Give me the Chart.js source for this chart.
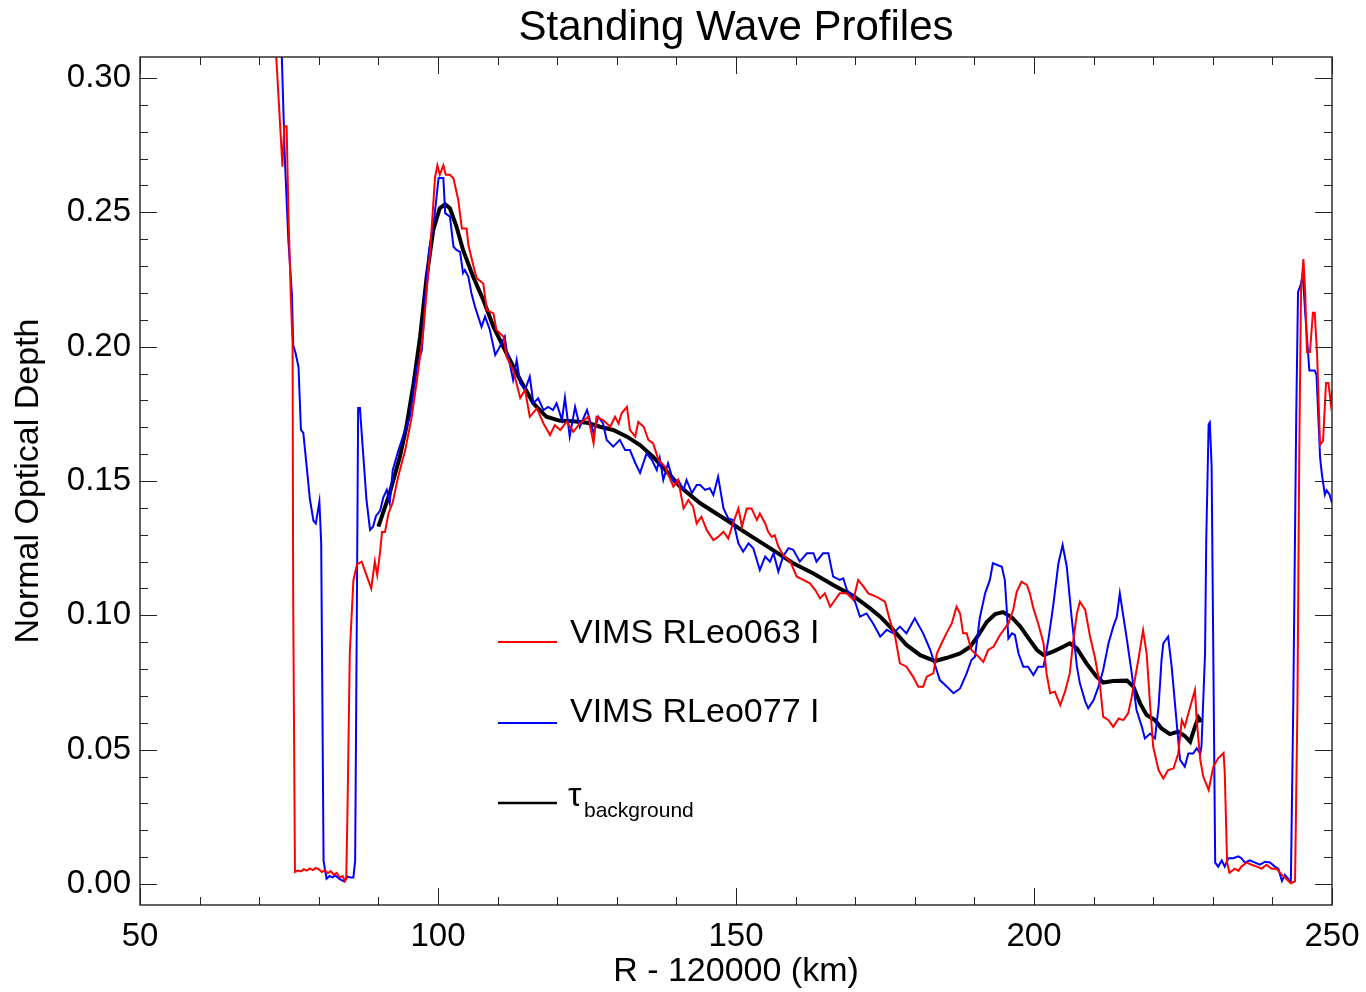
<!DOCTYPE html>
<html lang="en">
<head>
    <meta charset="UTF-8" />
    <title>Standing Wave Profiles</title>
    <script src="https://cdn.jsdelivr.net/npm/chart.js@4.4.1/dist/chart.umd.min.js"></script>
    <style>
        html, body { margin: 0; padding: 0; background: #fff; }
        #wrap { width: 1366px; height: 992px; }
    </style>
</head>
<body>
    <div id="wrap">
        <canvas id="waveChart" width="1366" height="992"></canvas>
    </div>

<script>
    // R - 120000 (km) / normal optical depth
    const redX = [72.3, 73.9, 74.2, 74.6, 74.9, 75.3, 75.6, 75.7, 76.0, 76.5, 77.0, 77.5, 78.0, 78.5, 79.0, 79.5, 80.0, 80.5, 81.0, 81.5, 82.0, 82.5, 83.0, 83.5, 84.0, 84.4, 84.6,
        84.8, 85.2, 85.8, 86.4, 87.2, 88.0, 88.8, 89.4, 89.8, 90.3, 90.6, 91.1, 91.7, 92.4, 93.3, 94.5, 95.6, 96.4, 97.5, 98.7, 99.5, 99.9, 100.3, 100.9, 101.3, 102.0, 102.6,
        103.4, 104.0, 104.8, 105.1, 105.9, 106.5, 107.6, 108.2, 109.3, 109.8, 111.0, 111.5, 112.6, 113.8, 114.6, 115.4, 116.6, 117.7, 118.8, 119.6, 120.5, 121.6, 122.7,
        123.8, 125.2, 126.1, 126.6, 127.7, 128.9, 129.7, 130.3, 130.8, 131.7, 132.2, 133.1, 133.6, 134.5, 135.3, 136.1, 137.0, 138.1, 139.5, 140.3, 141.2, 142.0, 142.8,
        143.4, 144.2, 145.1, 146.2, 147.0, 147.9, 148.7, 149.5, 150.4, 151.0, 151.8, 152.6, 153.5, 154.0, 154.9, 155.4, 156.0, 156.5, 157.1, 157.9, 159.1, 160.2, 161.3,
        162.4, 163.3, 164.1, 164.9, 165.8, 166.6, 167.4, 168.6, 169.7, 170.5, 171.4, 172.2, 173.6, 175.0, 175.8, 176.7, 177.5, 178.6, 179.7, 180.6, 181.4, 182.0, 183.1,
        183.7, 184.5, 185.3, 186.2, 187.0, 187.6, 188.1, 188.7, 189.5, 190.7, 191.5, 192.3, 193.2, 194.3, 195.7, 196.5, 197.1, 197.9, 198.8, 199.3, 199.9, 200.7, 201.6,
        202.1, 202.7, 203.5, 204.4, 205.2, 206.0, 206.6, 207.2, 207.7, 208.6, 209.4, 210.2, 211.1, 211.6, 212.5, 213.3, 214.2, 215.0, 215.8, 216.4, 217.5, 218.3, 218.9,
        219.5, 220.0, 220.9, 221.7, 222.5, 223.4, 224.2, 224.8, 225.3, 225.9, 227.0, 227.3, 227.9, 228.4, 229.3, 230.1, 230.9, 231.8, 232.0, 232.4, 232.8, 233.7, 234.3,
        234.8, 235.7, 236.5, 237.4, 238.2, 239.0, 239.9, 240.7, 241.6, 242.4, 243.1, 243.8, 244.2, 244.5, 244.8, 245.2, 245.5, 245.8, 246.3, 246.8, 247.1, 247.5, 248.0,
        248.5, 249.0, 249.4, 249.8, 250.1];
    const redY = [0.33, 0.267, 0.282, 0.282, 0.250, 0.219, 0.201, 0.107, 0.0045, 0.0050, 0.0047, 0.0055, 0.0050, 0.0058, 0.0052, 0.0060, 0.0055, 0.0045, 0.0052, 0.0040, 0.0048, 0.0035, 0.0042, 0.0025, 0.0030, 0.0012, 0.0020,
        0.025, 0.086, 0.113, 0.119, 0.120, 0.115, 0.110, 0.120, 0.115, 0.124, 0.131, 0.131, 0.138, 0.142, 0.1515, 0.1615, 0.174, 0.1865, 0.205, 0.236, 0.263, 0.2675, 0.264, 0.2675, 0.264, 0.264, 0.2626,
        0.2546, 0.244, 0.244, 0.2378, 0.2304, 0.2254, 0.2235, 0.2136, 0.2124, 0.2062, 0.2037, 0.1963, 0.1913, 0.1809, 0.1839, 0.1739, 0.1770, 0.1714, 0.1671, 0.1708, 0.1690, 0.1721, 0.1683,
        0.1714, 0.1739, 0.1640, 0.1739, 0.1727, 0.1702, 0.1739, 0.1714, 0.1752, 0.1776, 0.1690, 0.1665, 0.1720, 0.1702, 0.1653, 0.1640, 0.1578, 0.1553, 0.1479, 0.1504, 0.1398, 0.1429, 0.1404,
        0.1342, 0.1367, 0.1317, 0.1280, 0.1292, 0.1311, 0.1286, 0.1342, 0.1398, 0.1330, 0.1398, 0.1398, 0.1355, 0.1379, 0.1342, 0.1311, 0.1292, 0.1298, 0.1256, 0.1225, 0.1200, 0.1144, 0.1132,
        0.1119, 0.1094, 0.1063, 0.1082, 0.1032, 0.1057, 0.1082, 0.1082, 0.1057, 0.1132, 0.1107, 0.1082, 0.1069, 0.1051, 0.0983, 0.0921, 0.0821, 0.0809, 0.0772, 0.0734, 0.0734, 0.0772, 0.0784,
        0.0858, 0.0896, 0.0933, 0.0970, 0.1032, 0.1007, 0.0933, 0.0933, 0.0871, 0.0846, 0.0827, 0.0871, 0.0883, 0.0927, 0.0970, 0.1020, 0.1088, 0.1125, 0.1113, 0.1082, 0.1026, 0.0970, 0.0896,
        0.0784, 0.0710, 0.0716, 0.0666, 0.0716, 0.0784, 0.0908, 0.1007, 0.1051, 0.1020, 0.0921, 0.0846, 0.0734, 0.0623, 0.0610, 0.0585, 0.0616, 0.0610, 0.0635, 0.0697, 0.0834, 0.0945, 0.0858,
        0.0660, 0.0511, 0.0424, 0.0393, 0.0424, 0.0430, 0.0486, 0.0610, 0.0585, 0.0635, 0.0722, 0.0610, 0.0462, 0.0400, 0.0350, 0.0437, 0.0468, 0.0488, 0.0418, 0.0080, 0.0042, 0.0057, 0.0049,
        0.0065, 0.0080, 0.0072, 0.0065, 0.0057, 0.0072, 0.0057, 0.0057, 0.0034, 0.0018, 0.0003, 0.0010, 0.0665, 0.1588, 0.2203, 0.2326, 0.2203, 0.1980, 0.1980, 0.2126, 0.2126, 0.1972, 0.1634,
        0.1650, 0.1865, 0.1865, 0.1788, 0.1842];

    const blueX = [73.5, 74.3, 74.9, 75.5, 75.7, 76.1, 76.6, 77.0, 77.4, 78.0, 78.5, 79.1, 79.5, 80.1, 80.4, 80.8, 81.3, 81.8, 82.3, 82.8, 83.3, 83.8, 84.3, 84.8, 85.3, 85.8,
        86.1, 86.4, 86.6, 86.9, 87.4, 88.0, 88.6, 89.1, 89.6, 90.3, 90.8, 91.4, 91.9, 92.4, 93.3, 94.1, 95.3, 96.4, 97.3, 97.8, 98.5, 99.4, 100.1, 100.9, 101.2, 102.0,
        102.6, 103.1, 103.7, 104.2, 104.5, 105.1, 105.6, 106.2, 107.3, 107.9, 108.7, 109.6, 110.1, 111.2, 111.5, 111.8, 112.6, 113.2, 113.8, 114.6, 115.4, 116.0, 116.8,
        117.7, 118.5, 119.3, 119.9, 120.8, 121.3, 122.1, 123.0, 123.8, 125.0, 126.1, 126.9, 127.7, 128.3, 129.4, 130.5, 131.4, 132.2, 133.1, 133.9, 135.0, 135.9, 136.7,
        137.2, 137.8, 138.6, 139.5, 140.3, 141.2, 141.7, 142.6, 143.4, 144.0, 144.8, 145.6, 146.2, 147.0, 147.9, 148.7, 149.5, 150.4, 151.2, 152.1, 152.9, 154.0, 154.9,
        155.7, 156.3, 157.1, 157.9, 158.8, 159.6, 160.7, 161.9, 163.0, 163.5, 164.6, 165.5, 166.3, 167.4, 168.0, 168.6, 169.7, 170.8, 171.9, 173.0, 174.2, 175.3, 176.4,
        177.5, 178.6, 180.0, 181.4, 182.6, 184.2, 185.4, 186.5, 187.6, 188.7, 189.5, 190.1, 190.9, 191.8, 192.6, 193.1, 194.6, 195.1, 195.4, 195.7, 196.3, 196.8, 197.4,
        198.2, 199.0, 199.9, 200.7, 201.6, 202.4, 203.2, 204.1, 204.8, 205.5, 206.3, 207.2, 207.7, 208.6, 209.1, 210.0, 210.8, 211.6, 212.5, 213.3, 213.9, 214.4, 215.0,
        215.6, 216.4, 217.2, 218.1, 218.6, 219.5, 220.3, 220.9, 221.4, 221.7, 222.5, 223.1, 223.9, 224.5, 225.3, 225.9, 226.7, 227.3, 227.9, 228.1, 228.7, 228.9, 229.3,
        229.5, 229.8, 230.1, 230.4, 230.9, 231.5, 232.0, 232.6, 233.4, 234.3, 234.8, 235.4, 236.2, 237.1, 237.9, 238.8, 239.6, 240.4, 241.0, 241.6, 242.1, 242.7, 243.1,
        243.5, 244.0, 244.3, 244.8, 245.1, 245.5, 245.8, 246.2, 246.8, 247.1, 247.4, 248.0, 248.3, 248.8, 249.1, 249.6, 250.0];
    const blueY = [0.33, 0.270, 0.2393, 0.219, 0.2006, 0.1976, 0.1924, 0.169, 0.1679, 0.1546, 0.1433, 0.1352, 0.1342, 0.1423, 0.127, 0.0086, 0.0020, 0.0030, 0.0025, 0.0032, 0.0022, 0.0015, 0.0010, 0.0028, 0.0024, 0.0024,
        0.0086, 0.1066, 0.1772, 0.1772, 0.1615, 0.143, 0.1318, 0.1330, 0.137, 0.139, 0.1437, 0.1467, 0.1417, 0.154, 0.161, 0.1664, 0.174, 0.192, 0.1988, 0.2174, 0.236, 0.2484, 0.2628, 0.2628, 0.2497, 0.2484,
        0.2372, 0.2360, 0.2353, 0.2274, 0.2285, 0.2260, 0.2200, 0.2149, 0.2074, 0.2112, 0.2062, 0.1969, 0.1988, 0.2037, 0.1988, 0.1963, 0.1876, 0.195, 0.1863, 0.1839, 0.1888, 0.179, 0.1808,
        0.1764, 0.1776, 0.1764, 0.1789, 0.1727, 0.181, 0.1665, 0.1776, 0.1702, 0.1764, 0.1678, 0.1739, 0.1714, 0.1653, 0.1628, 0.1653, 0.1615, 0.1615, 0.1567, 0.153, 0.1603, 0.1578, 0.1541,
        0.1586, 0.1504, 0.1566, 0.1497, 0.1504, 0.1467, 0.1504, 0.1455, 0.1485, 0.1485, 0.1467, 0.1473, 0.1448, 0.1516, 0.1398, 0.1361, 0.1355, 0.1268, 0.1237, 0.1268, 0.1250, 0.1169, 0.1219,
        0.1200, 0.1231, 0.1163, 0.1219, 0.1250, 0.1244, 0.1200, 0.1231, 0.1231, 0.1200, 0.1231, 0.1231, 0.1144, 0.1132, 0.1138, 0.1094, 0.1069, 0.0995, 0.1007, 0.0970, 0.0921, 0.0946, 0.0933,
        0.0958, 0.0933, 0.0989, 0.0933, 0.0871, 0.0759, 0.0734, 0.0710, 0.0728, 0.0784, 0.0834, 0.0846, 0.0990, 0.1082, 0.1132, 0.1194, 0.1181, 0.1132, 0.1032, 0.0914, 0.0933, 0.0927, 0.0858,
        0.0809, 0.0809, 0.0778, 0.0809, 0.0809, 0.0908, 0.1032, 0.1194, 0.1262, 0.1181, 0.0995, 0.0809, 0.0747, 0.0679, 0.0654, 0.0685, 0.0734, 0.0796, 0.0896, 0.0958, 0.0995, 0.1082, 0.0995,
        0.0908, 0.0784, 0.0648, 0.0585, 0.0542, 0.0560, 0.0542, 0.0660, 0.0834, 0.0896, 0.0921, 0.0809, 0.0610, 0.0462, 0.0437, 0.0486, 0.0486, 0.0505, 0.0486, 0.0511, 0.0858, 0.1280, 0.1711,
        0.1718, 0.1557, 0.0818, 0.0080, 0.0065, 0.0088, 0.0065, 0.0096, 0.0096, 0.0103, 0.0096, 0.0080, 0.0088, 0.0080, 0.0072, 0.0083, 0.0080, 0.0065, 0.0057, 0.0011, 0.0034, 0.0018, 0.0010,
        0.0665, 0.1742, 0.2203, 0.2234, 0.2272, 0.2126, 0.2034, 0.1911, 0.1911, 0.1911, 0.1895, 0.1588, 0.1526, 0.1449, 0.1465, 0.1449, 0.1418];

    const bgX = [90.0, 91.9, 93.6, 94.7, 95.9, 97.0, 98.1, 99.2, 100.3, 101.2, 102.0, 103.1, 104.2, 105.9, 107.6, 109.3, 111.5, 113.8, 116.0, 118.2, 120.5, 122.7, 125.0,
        127.2, 129.4, 131.7, 133.9, 136.1, 138.4, 140.6, 144.0, 148.4, 151.8, 155.7, 159.6, 163.0, 166.3, 169.7, 172.5, 174.2, 176.4, 178.6, 180.9, 183.4, 185.4, 187.6,
        189.3, 190.7, 192.1, 193.5, 194.8, 196.3, 197.7, 199.3, 200.5, 201.6, 203.2, 204.9, 206.0, 207.2, 208.8, 210.5, 211.6, 213.3, 215.6, 216.7, 217.8, 218.9, 220.3,
        221.4, 222.8, 224.2, 225.3, 226.2, 227.0, 227.6, 228.1];
    const bgY = [0.133, 0.1455, 0.159, 0.1702, 0.1863, 0.2037, 0.226, 0.2434, 0.2515, 0.253, 0.2515, 0.2447, 0.236, 0.226, 0.2174, 0.2074, 0.1975, 0.1876, 0.1789, 0.1739, 0.1724, 0.1722, 0.1717,
        0.1702, 0.169, 0.1665, 0.1634, 0.159, 0.1535, 0.1479, 0.1417, 0.1355, 0.1305, 0.125, 0.1194, 0.1156, 0.1113, 0.1072, 0.1026, 0.0995, 0.0945, 0.089, 0.0852, 0.083, 0.0842, 0.0858,
        0.0883, 0.0927, 0.0976, 0.1005, 0.1012, 0.0992, 0.0958, 0.0908, 0.0871, 0.0852, 0.0865, 0.0883, 0.0896, 0.0877, 0.0821, 0.0772, 0.075, 0.0756, 0.0757, 0.0734, 0.0672, 0.0629, 0.061,
        0.0579, 0.0558, 0.0567, 0.0551, 0.053, 0.0585, 0.062, 0.0604];

    const xTickValues = [50, 100, 150, 200, 250];
    const yTickValues = [0.00, 0.05, 0.10, 0.15, 0.20, 0.25, 0.30];
    const seriesLabels = ['VIMS RLeo063 I', 'VIMS RLeo077 I'];
    const chartTitle = 'Standing Wave Profiles';

    const toPoints = (xs, ys) => xs.map((v, i) => ({ x: v, y: ys[i] }));

    const FONT = '"Liberation Sans", Arial, sans-serif';
    Chart.defaults.font.family = FONT;
    Chart.defaults.color = '#000';

    // box with inward ticks on all four sides (major + minor)
    const frameTicks = {
        id: 'frameTicks',
        afterDatasetsDraw(chart) {
            const { ctx, chartArea: a, scales: { x, y } } = chart;
            ctx.save();
            ctx.strokeStyle = '#222';
            ctx.lineWidth = 1;
            ctx.beginPath();
            for (let k = 5; k <= 25; k++) {
                const px = Math.round(x.getPixelForValue(k * 10)) + 0.5;
                const len = k % 5 === 0 ? 17 : 8;
                ctx.moveTo(px, a.bottom); ctx.lineTo(px, a.bottom - len);
                ctx.moveTo(px, a.top); ctx.lineTo(px, a.top + len);
            }
            for (let k = 0; k <= 30; k++) {
                const py = Math.round(y.getPixelForValue(k / 100)) + 0.5;
                const len = k % 5 === 0 ? 17 : 8;
                ctx.moveTo(a.left, py); ctx.lineTo(a.left + len, py);
                ctx.moveTo(a.right, py); ctx.lineTo(a.right - len, py);
            }
            ctx.stroke();
            ctx.lineWidth = 1.4;
            ctx.strokeRect(a.left, a.top, a.right - a.left, a.bottom - a.top);
            ctx.restore();
        }
    };

    // title centred over the plot box + legend with subscript for tau
    const plotLegend = {
        id: 'plotLegend',
        afterDraw(chart) {
            const { ctx, chartArea: a } = chart;
            ctx.save();
            ctx.fillStyle = '#000';
            ctx.textAlign = 'center';
            ctx.textBaseline = 'alphabetic';
            ctx.font = '42px ' + FONT;
            ctx.fillText(chartTitle, (a.left + a.right) / 2, a.top - 17);

            const x0 = a.left + 358, x1 = a.left + 417, tx = a.left + 430;
            const rows = [
                { color: '#ff0000', y: a.top + 585, w: 2 },
                { color: '#0000ff', y: a.top + 666, w: 2 },
                { color: '#000000', y: a.top + 746, w: 2.5 }
            ];
            rows.forEach(r => {
                ctx.strokeStyle = r.color;
                ctx.lineWidth = r.w;
                ctx.beginPath();
                ctx.moveTo(x0, r.y); ctx.lineTo(x1, r.y);
                ctx.stroke();
            });
            ctx.textAlign = 'left';
            ctx.font = '34px ' + FONT;
            ctx.fillText(seriesLabels[0], tx, rows[0].y + 1);
            ctx.fillText(seriesLabels[1], tx, rows[1].y - 1);
            ctx.fillText('\u03c4', tx - 2, rows[2].y + 3);
            ctx.font = '21px ' + FONT;
            ctx.fillText('background', tx + 14, rows[2].y + 14);
            ctx.restore();
        }
    };

    new Chart(document.getElementById('waveChart'), {
        type: 'line',
        data: {
            datasets: [
                { label: seriesLabels[0], data: toPoints(redX, redY), borderColor: '#ff0000', borderWidth: 2 },
                { label: seriesLabels[1], data: toPoints(blueX, blueY), borderColor: '#0000ff', borderWidth: 2 },
                { label: 'tau background', data: toPoints(bgX, bgY), borderColor: '#000000', borderWidth: 4 }
            ]
        },
        options: {
            responsive: false,
            animation: false,
            devicePixelRatio: 1,
            elements: { point: { radius: 0 }, line: { tension: 0, fill: false } },
            layout: { padding: { left: 0, right: 34, top: 57, bottom: 0 } },
            plugins: {
                legend: { display: false },
                tooltip: { enabled: false },
                title: { display: false }
            },
            scales: {
                x: {
                    type: 'linear',
                    min: 50,
                    max: 250,
                    afterBuildTicks: s => { s.ticks = xTickValues.map(v => ({ value: v })); },
                    afterFit: s => { s.height = 87; },
                    grid: { display: false, drawTicks: true, tickLength: 10 },
                    border: { display: false },
                    ticks: { font: { size: 33 }, color: '#000', padding: 2, maxRotation: 0, autoSkip: false, callback: v => String(v) },
                    title: { display: true, text: 'R - 120000 (km)', font: { size: 34 }, color: '#000', padding: { top: 0, bottom: 0 } }
                },
                y: {
                    type: 'linear',
                    min: -0.0078,
                    max: 0.3078,
                    afterBuildTicks: s => { s.ticks = yTickValues.map(v => ({ value: v })); },
                    afterFit: s => { s.width = 140; },
                    grid: { display: false, drawTicks: false },
                    border: { display: false },
                    ticks: { font: { size: 33 }, color: '#000', padding: 9, autoSkip: false, callback: v => v.toFixed(2) },
                    title: { display: true, text: 'Normal Optical Depth', font: { size: 34 }, color: '#000', padding: { top: 8, bottom: 0 } }
                }
            }
        },
        plugins: [frameTicks, plotLegend]
    });
</script>
</body>
</html>
